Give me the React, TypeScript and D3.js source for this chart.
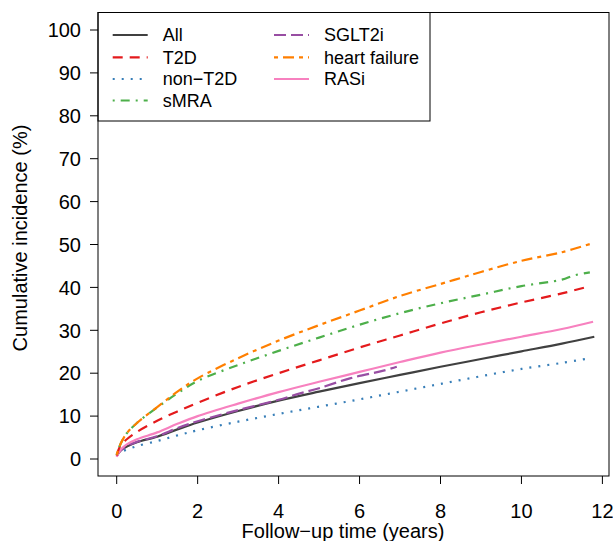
import React from "react";
import * as d3 from "d3";

const seriesNames = ["All", "T2D", "non\u2212T2D", "sMRA", "SGLT2i", "heart failure", "RASi"];
const seriesColors = ["#404040", "#E41A1C", "#377EB8", "#4DAF4A", "#984EA3", "#FF7F00", "#F781BF"];
const seriesDash = ["", "10,7", "2,7", "2,6,9,6", "12,5", "4,5,11,5", ""];

const tAll = [0, 0.1, 0.25, 0.5, 1, 1.5, 2, 3, 4, 5, 6, 7, 8, 9, 10, 11, 11.8];
const vAll = [0.8, 2.0, 2.9, 3.9, 5.2, 6.9, 8.5, 11.2, 13.6, 15.7, 17.7, 19.6, 21.5, 23.3, 25.1, 26.9, 28.5];

const tT2D = [0, 0.1, 0.25, 0.5, 1, 1.5, 2, 3, 4, 5, 6, 7, 8, 9, 10, 11, 11.57];
const vT2D = [0.8, 3.3, 4.6, 6.3, 8.9, 11.1, 13.1, 16.8, 20.0, 23.0, 26.0, 28.8, 31.6, 34.2, 36.5, 38.6, 40.0];

const tNon = [0, 0.1, 0.25, 0.5, 1, 1.5, 2, 3, 4, 5, 6, 7, 8, 9, 10, 11, 11.57];
const vNon = [0.8, 1.6, 2.2, 3.0, 4.2, 5.5, 6.7, 8.7, 10.5, 12.2, 13.9, 15.7, 17.5, 19.3, 21.0, 22.4, 23.3];

const tSMRA = [0, 0.1, 0.25, 0.5, 1, 1.5, 2, 3, 4, 5, 6, 7, 8, 9, 10, 11, 11.3, 11.69];
const vSMRA = [1.0, 3.6, 6.0, 8.4, 12.0, 15.3, 18.2, 21.9, 25.2, 28.3, 31.3, 34.0, 36.3, 38.3, 40.3, 41.8, 42.8, 43.5];

const tSGLT = [0, 0.1, 0.25, 0.5, 1, 1.5, 2, 3, 4, 4.53, 5, 5.76, 6.59, 6.92];
const vSGLT = [0.8, 2.0, 3.0, 4.0, 5.3, 7.2, 8.8, 11.4, 13.8, 15.3, 16.5, 18.8, 20.6, 21.5];

const tHF = [0, 0.1, 0.25, 0.5, 1, 1.5, 2, 3, 4, 5, 6, 7, 8, 8.5, 9, 10, 11, 11.69];
const vHF = [1.0, 3.6, 6.0, 8.4, 12.1, 15.7, 18.8, 23.5, 27.6, 31.2, 34.6, 38.0, 40.8, 42.2, 43.6, 46.2, 48.2, 50.1];

const tRAS = [0, 0.1, 0.25, 0.5, 1, 1.5, 2, 3, 4, 5, 6, 7, 8, 9, 10, 11, 11.77];
const vRAS = [0.5, 2.2, 3.4, 4.6, 6.2, 8.2, 10.0, 12.9, 15.6, 18.0, 20.3, 22.6, 24.8, 26.7, 28.5, 30.3, 32.0];

const seriesT = [tAll, tT2D, tNon, tSMRA, tSGLT, tHF, tRAS];
const seriesV = [vAll, vT2D, vNon, vSMRA, vSGLT, vHF, vRAS];

const xTicks = [0, 2, 4, 6, 8, 10, 12];
const yTicks = [0, 10, 20, 30, 40, 50, 60, 70, 80, 90, 100];

const font = "'Liberation Sans', Arial, Helvetica, sans-serif";

export default function App() {
  const W = 613, H = 541;
  const box = { l: 98, t: 12.5, r: 609, b: 476 };
  const x = d3.scaleLinear().domain([0, 12]).range([116.7, 602.4]);
  const y = d3.scaleLinear().domain([0, 100]).range([459, 30]);
  const line = d3.line<[number, number]>().x(d => x(d[0])).y(d => y(d[1])).curve(d3.curveCatmullRom.alpha(0.5));

  const drawOrder = [2, 0, 4, 6, 1, 3, 5];
  const legendRows = [
    { i: 0, col: 0, row: 0 }, { i: 1, col: 0, row: 1 }, { i: 2, col: 0, row: 2 }, { i: 3, col: 0, row: 3 },
    { i: 4, col: 1, row: 0 }, { i: 5, col: 1, row: 1 }, { i: 6, col: 1, row: 2 },
  ];
  const colX = [112.7, 274];
  const rowY = [35, 57.3, 79, 100.5];

  return (
    <svg width={W} height={H} style={{ position: "absolute", left: 0, top: 0, background: "#fff" }} fontFamily={font}>
      <rect x={0} y={0} width={W} height={H} fill="#fff" />
      <defs>
        <clipPath id="plotclip">
          <rect x={box.l} y={box.t} width={box.r - box.l} height={box.b - box.t} />
        </clipPath>
      </defs>
      <g clipPath="url(#plotclip)">
        {drawOrder.map(i => {
          const pts: [number, number][] = seriesT[i].map((t, k) => [t, seriesV[i][k]]);
          return (
            <path key={i} d={line(pts) || ""} fill="none" stroke={seriesColors[i]} strokeWidth={2.2}
              strokeDasharray={seriesDash[i] || undefined} strokeLinecap="butt" />
          );
        })}
      </g>
      {/* legend */}
      <rect x={box.l} y={box.t} width={430 - box.l} height={121 - box.t} fill="#fff" stroke="#000" strokeWidth={1} />
      {legendRows.map(({ i, col, row }) => (
        <g key={i}>
          <line x1={colX[col]} x2={colX[col] + 35} y1={rowY[row]} y2={rowY[row]} stroke={seriesColors[i]}
            strokeWidth={2.2} strokeDasharray={seriesDash[i] || undefined} />
          <text x={colX[col] + 50} y={rowY[row]} dy="0.36em" fontSize={18} fill="#000">{seriesNames[i]}</text>
        </g>
      ))}
      {/* box */}
      <rect x={box.l} y={box.t} width={box.r - box.l} height={box.b - box.t} fill="none" stroke="#000" strokeWidth={1} />
      {/* y axis */}
      {yTicks.map(v => (
        <g key={v}>
          <line x1={box.l - 8} x2={box.l} y1={y(v)} y2={y(v)} stroke="#000" strokeWidth={1} />
          <text x={81} y={y(v)} dy="0.36em" textAnchor="end" fontSize={20} fill="#000">{v}</text>
        </g>
      ))}
      {/* x axis */}
      {xTicks.map(v => (
        <g key={v}>
          <line x1={x(v)} x2={x(v)} y1={box.b} y2={box.b + 8} stroke="#000" strokeWidth={1} />
          <text x={x(v)} y={510.5} dy="0.36em" textAnchor="middle" fontSize={20} fill="#000">{v}</text>
        </g>
      ))}
      <text x={343} y={531} dy="0.36em" textAnchor="middle" fontSize={20} fill="#000">Follow{"\u2212"}up time (years)</text>
      <text transform="translate(20,238) rotate(-90)" textAnchor="middle" dy="0.36em" fontSize={20} fill="#000">Cumulative incidence (%)</text>
    </svg>
  );
}
